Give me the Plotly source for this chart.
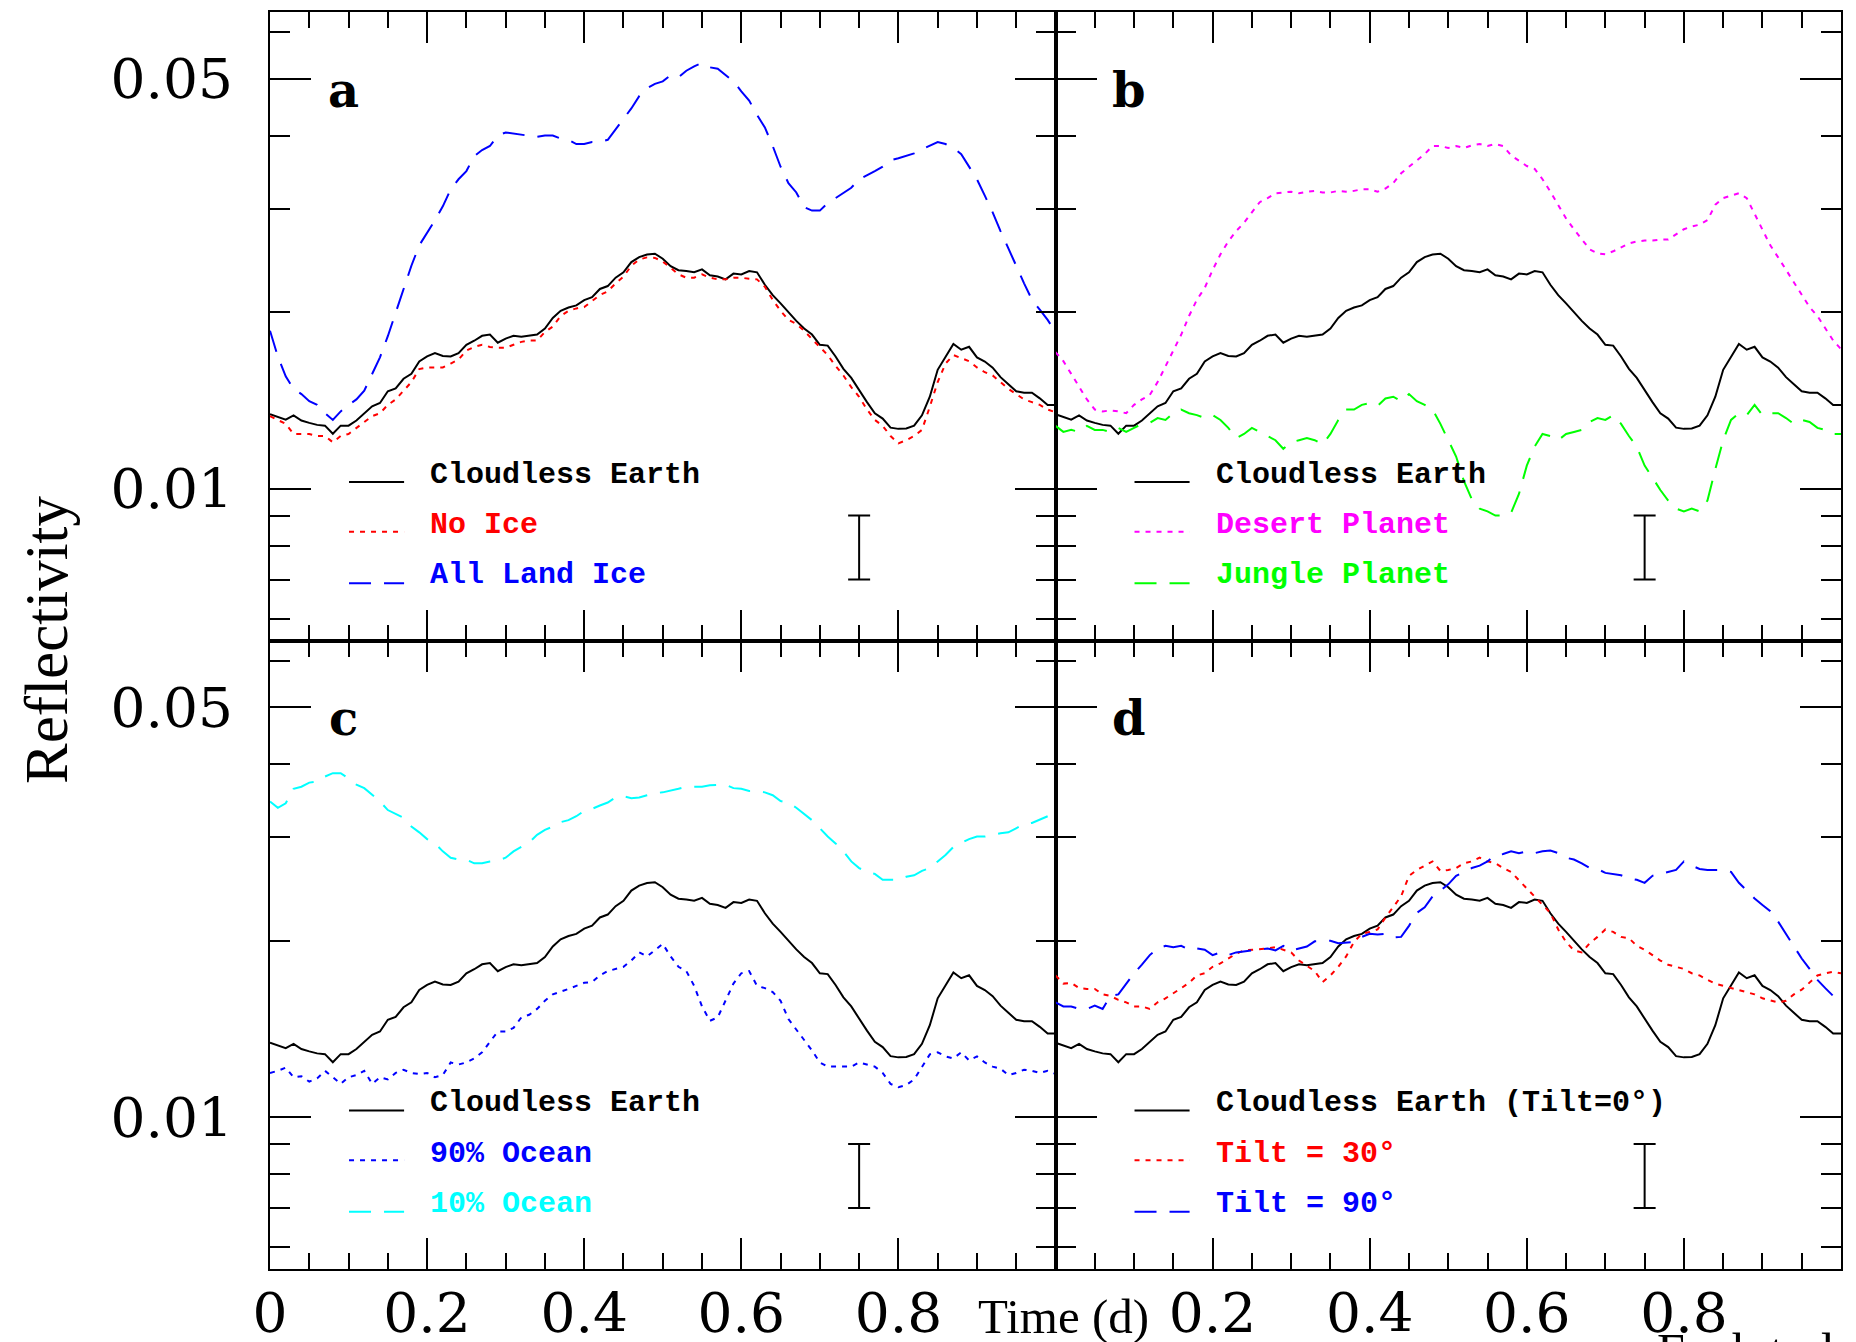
import plotly.graph_objects as go

# ---------------- data ----------------
TIME = [round(i * 0.01, 2) for i in range(101)]

CLOUDLESS_EARTH = [
    0.01340, 0.01327, 0.01312, 0.01334, 0.01307, 0.01295, 0.01285, 0.01281, 0.01241, 0.01281, 0.01281,
    0.01307, 0.01345, 0.01382, 0.01400, 0.01466, 0.01483, 0.01540, 0.01570, 0.01648, 0.01681,
    0.01703, 0.01684, 0.01681, 0.01703, 0.01760, 0.01788, 0.01823, 0.01832, 0.01774, 0.01803,
    0.01823, 0.01817, 0.01823, 0.01832, 0.01876, 0.01955, 0.02011, 0.02037, 0.02054, 0.02097,
    0.02121, 0.02191, 0.02216, 0.02290, 0.02339, 0.02435, 0.02483, 0.02508, 0.02516, 0.02467,
    0.02396, 0.02358, 0.02350, 0.02339, 0.02366, 0.02312, 0.02301, 0.02275, 0.02327, 0.02320,
    0.02350, 0.02339, 0.02227, 0.02138, 0.02070, 0.01997, 0.01933, 0.01876, 0.01832, 0.01760,
    0.01754, 0.01681, 0.01601, 0.01545, 0.01470, 0.01405, 0.01345, 0.01317, 0.01271, 0.01265,
    0.01267, 0.01281, 0.01334, 0.01435, 0.01595, 0.01681, 0.01766, 0.01726, 0.01746, 0.01675,
    0.01648, 0.01609, 0.01550, 0.01507, 0.01466, 0.01458, 0.01458, 0.01426, 0.01389, 0.01389,
]

NO_ICE = [
    0.01330, 0.01310, 0.01290, 0.01240, 0.01240, 0.01240, 0.01230, 0.01230, 0.01200, 0.01230, 0.01240,
    0.01270, 0.01300, 0.01330, 0.01345, 0.01390, 0.01420, 0.01470, 0.01520, 0.01600, 0.01610,
    0.01610, 0.01610, 0.01635, 0.01660, 0.01720, 0.01745, 0.01760, 0.01745, 0.01740, 0.01740,
    0.01760, 0.01780, 0.01790, 0.01790, 0.01850, 0.01890, 0.01970, 0.02010, 0.02030, 0.02040,
    0.02090, 0.02140, 0.02170, 0.02240, 0.02300, 0.02400, 0.02460, 0.02480, 0.02475, 0.02440,
    0.02380, 0.02320, 0.02290, 0.02290, 0.02320, 0.02290, 0.02275, 0.02275, 0.02290, 0.02290,
    0.02280, 0.02275, 0.02210, 0.02100, 0.02010, 0.01940, 0.01910, 0.01860, 0.01800, 0.01745,
    0.01690, 0.01620, 0.01560, 0.01490, 0.01435, 0.01365, 0.01310, 0.01280, 0.01230, 0.01195,
    0.01210, 0.01230, 0.01260, 0.01380, 0.01520, 0.01635, 0.01690, 0.01670, 0.01650, 0.01610,
    0.01580, 0.01560, 0.01520, 0.01480, 0.01450, 0.01420, 0.01405, 0.01390, 0.01365, 0.01350,
]

ALL_LAND_ICE = [
    0.01860, 0.01680, 0.01555, 0.01480, 0.01450, 0.01410, 0.01390, 0.01345, 0.01310, 0.01355, 0.01390,
    0.01420, 0.01470, 0.01570, 0.01675, 0.01820, 0.02000, 0.02200, 0.02400, 0.02600, 0.02730,
    0.02870, 0.03030, 0.03240, 0.03370, 0.03480, 0.03690, 0.03780, 0.03840, 0.04000, 0.04050,
    0.04030, 0.04020, 0.04000, 0.03980, 0.04000, 0.04000, 0.03955, 0.03935, 0.03870, 0.03870,
    0.03900, 0.03900, 0.03935, 0.04100, 0.04270, 0.04450, 0.04670, 0.04820, 0.04900, 0.04950,
    0.05070, 0.05030, 0.05160, 0.05250, 0.05320, 0.05230, 0.05200, 0.05080, 0.04950, 0.04760,
    0.04590, 0.04340, 0.04130, 0.03840, 0.03540, 0.03320, 0.03200, 0.03020, 0.02980, 0.02980,
    0.03070, 0.03130, 0.03190, 0.03260, 0.03370, 0.03430, 0.03480, 0.03540, 0.03630, 0.03660,
    0.03700, 0.03730, 0.03790, 0.03840, 0.03900, 0.03870, 0.03810, 0.03720, 0.03540, 0.03370,
    0.03160, 0.02960, 0.02750, 0.02560, 0.02400, 0.02240, 0.02100, 0.02020, 0.01940, 0.01850,
]

DESERT_PLANET = [
    0.01710, 0.01650, 0.01570, 0.01495, 0.01420, 0.01365, 0.01355, 0.01360, 0.01355, 0.01345, 0.01390,
    0.01420, 0.01445, 0.01520, 0.01620, 0.01720, 0.01830, 0.01970, 0.02100, 0.02200, 0.02360,
    0.02510, 0.02640, 0.02750, 0.02840, 0.02960, 0.03080, 0.03130, 0.03190, 0.03200, 0.03210,
    0.03190, 0.03210, 0.03220, 0.03200, 0.03200, 0.03220, 0.03210, 0.03220, 0.03240, 0.03240,
    0.03210, 0.03250, 0.03320, 0.03450, 0.03540, 0.03630, 0.03720, 0.03840, 0.03840, 0.03810,
    0.03840, 0.03810, 0.03850, 0.03870, 0.03840, 0.03870, 0.03840, 0.03700, 0.03630, 0.03550,
    0.03510, 0.03370, 0.03210, 0.03050, 0.02890, 0.02770, 0.02660, 0.02560, 0.02520, 0.02510,
    0.02540, 0.02580, 0.02620, 0.02640, 0.02650, 0.02650, 0.02660, 0.02660, 0.02710, 0.02770,
    0.02800, 0.02820, 0.02870, 0.03050, 0.03130, 0.03160, 0.03190, 0.03130, 0.02940, 0.02750,
    0.02600, 0.02480, 0.02360, 0.02240, 0.02140, 0.02040, 0.01970, 0.01880, 0.01790, 0.01730,
]

JUNGLE_PLANET = [
    0.01280, 0.01250, 0.01260, 0.01250, 0.01280, 0.01260, 0.01260, 0.01250, 0.01270, 0.01250, 0.01270,
    0.01290, 0.01295, 0.01320, 0.01310, 0.01345, 0.01365, 0.01345, 0.01335, 0.01320, 0.01335,
    0.01310, 0.01270, 0.01220, 0.01240, 0.01270, 0.01250, 0.01230, 0.01210, 0.01170, 0.01200,
    0.01210, 0.01220, 0.01210, 0.01190, 0.01240, 0.01310, 0.01365, 0.01365, 0.01390, 0.01400,
    0.01385, 0.01425, 0.01435, 0.01410, 0.01450, 0.01410, 0.01390, 0.01365, 0.01290, 0.01210,
    0.01135, 0.01030, 0.00960, 0.00925, 0.00915, 0.00900, 0.00900, 0.00910, 0.00980, 0.01095,
    0.01180, 0.01240, 0.01230, 0.01210, 0.01240, 0.01250, 0.01260, 0.01300, 0.01320, 0.01310,
    0.01335, 0.01290, 0.01230, 0.01180, 0.01095, 0.01045, 0.00995, 0.00955, 0.00925, 0.00915,
    0.00925, 0.00915, 0.00955, 0.01080, 0.01210, 0.01310, 0.01345, 0.01335, 0.01390, 0.01335,
    0.01345, 0.01345, 0.01320, 0.01290, 0.01310, 0.01300, 0.01270, 0.01260, 0.01240, 0.01240,
]

OCEAN_90 = [
    0.01190, 0.01200, 0.01215, 0.01170, 0.01175, 0.01150, 0.01165, 0.01200, 0.01170, 0.01140, 0.01170,
    0.01180, 0.01200, 0.01140, 0.01170, 0.01160, 0.01190, 0.01205, 0.01190, 0.01185, 0.01190,
    0.01170, 0.01180, 0.01240, 0.01230, 0.01240, 0.01260, 0.01290, 0.01345, 0.01400, 0.01400,
    0.01420, 0.01480, 0.01495, 0.01530, 0.01580, 0.01620, 0.01635, 0.01655, 0.01675, 0.01695,
    0.01700, 0.01745, 0.01775, 0.01790, 0.01805, 0.01850, 0.01910, 0.01880, 0.01925, 0.01975,
    0.01880, 0.01805, 0.01775, 0.01675, 0.01545, 0.01460, 0.01480, 0.01580, 0.01690, 0.01760,
    0.01775, 0.01675, 0.01660, 0.01635, 0.01580, 0.01470, 0.01410, 0.01355, 0.01300, 0.01240,
    0.01220, 0.01220, 0.01220, 0.01220, 0.01240, 0.01230, 0.01220, 0.01190, 0.01140, 0.01125,
    0.01135, 0.01160, 0.01220, 0.01280, 0.01290, 0.01270, 0.01260, 0.01290, 0.01250, 0.01270,
    0.01240, 0.01220, 0.01210, 0.01180, 0.01190, 0.01205, 0.01200, 0.01190, 0.01200, 0.01185,
]

OCEAN_10 = [
    0.03455, 0.03370, 0.03430, 0.03630, 0.03660, 0.03720, 0.03735, 0.03810, 0.03860, 0.03860, 0.03780,
    0.03690, 0.03640, 0.03540, 0.03455, 0.03340, 0.03290, 0.03240, 0.03130, 0.03060, 0.02980,
    0.02930, 0.02840, 0.02770, 0.02750, 0.02750, 0.02710, 0.02710, 0.02730, 0.02740, 0.02770,
    0.02840, 0.02890, 0.02940, 0.03030, 0.03090, 0.03130, 0.03185, 0.03210, 0.03260, 0.03330,
    0.03355, 0.03400, 0.03440, 0.03510, 0.03525, 0.03500, 0.03510, 0.03540, 0.03570, 0.03580,
    0.03600, 0.03630, 0.03660, 0.03660, 0.03660, 0.03680, 0.03690, 0.03690, 0.03640, 0.03630,
    0.03600, 0.03600, 0.03580, 0.03540, 0.03460, 0.03440, 0.03370, 0.03290, 0.03210, 0.03110,
    0.03010, 0.02930, 0.02840, 0.02730, 0.02660, 0.02620, 0.02600, 0.02540, 0.02540, 0.02540,
    0.02570, 0.02585, 0.02630, 0.02660, 0.02730, 0.02800, 0.02890, 0.02930, 0.02980, 0.03010,
    0.03010, 0.03030, 0.03050, 0.03060, 0.03110, 0.03160, 0.03175, 0.03220, 0.03260, None,
]

TILT_30 = [
    0.01745, 0.01690, 0.01695, 0.01660, 0.01655, 0.01655, 0.01620, 0.01610, 0.01585, 0.01570, 0.01545,
    0.01545, 0.01530, 0.01570, 0.01595, 0.01630, 0.01660, 0.01695, 0.01745, 0.01760, 0.01805,
    0.01830, 0.01865, 0.01900, 0.01925, 0.01930, 0.01930, 0.01940, 0.01950, 0.01930, 0.01910,
    0.01850, 0.01810, 0.01775, 0.01700, 0.01745, 0.01805, 0.01880, 0.01990, 0.02055, 0.02070,
    0.02090, 0.02190, 0.02280, 0.02380, 0.02580, 0.02640, 0.02685, 0.02730, 0.02630, 0.02640,
    0.02660, 0.02710, 0.02730, 0.02770, 0.02730, 0.02710, 0.02660, 0.02620, 0.02535, 0.02455,
    0.02380, 0.02300, 0.02230, 0.02090, 0.01990, 0.01925, 0.01910, 0.01980, 0.02030, 0.02090,
    0.02070, 0.02030, 0.02020, 0.01960, 0.01930, 0.01890, 0.01850, 0.01820, 0.01805, 0.01790,
    0.01760, 0.01745, 0.01715, 0.01690, 0.01675, 0.01660, 0.01650, 0.01635, 0.01620, 0.01595,
    0.01580, 0.01570, 0.01580, 0.01620, 0.01650, 0.01700, 0.01745, 0.01760, 0.01770, 0.01760,
]

TILT_90 = [
    0.01570, 0.01545, 0.01545, 0.01530, 0.01530, 0.01550, 0.01530, 0.01610, 0.01620, 0.01690, 0.01760,
    0.01820, 0.01890, 0.01940, 0.01960, 0.01950, 0.01960, 0.01930, 0.01940, 0.01930, 0.01890,
    0.01910, 0.01890, 0.01910, 0.01920, 0.01925, 0.01930, 0.01940, 0.01925, 0.01960, 0.01925,
    0.01940, 0.01955, 0.01995, 0.01995, 0.02000, 0.01980, 0.01985, 0.01990, 0.02030, 0.02055,
    0.02050, 0.02055, 0.02025, 0.02030, 0.02120, 0.02230, 0.02280, 0.02380, 0.02435, 0.02495,
    0.02580, 0.02620, 0.02660, 0.02685, 0.02730, 0.02800, 0.02810, 0.02840, 0.02820, 0.02840,
    0.02820, 0.02840, 0.02850, 0.02820, 0.02770, 0.02750, 0.02710, 0.02660, 0.02650, 0.02610,
    0.02600, 0.02585, 0.02555, 0.02540, 0.02510, 0.02580, 0.02600, 0.02620, 0.02640, 0.02730,
    0.02685, 0.02650, 0.02640, 0.02640, 0.02640, 0.02620, 0.02510, 0.02435, 0.02360, 0.02300,
    0.02245, 0.02155, 0.02055, 0.01955, 0.01865, 0.01790, 0.01715, 0.01660, 0.01610, 0.01610,
]

# representative error bar (same in every panel)
ERRBAR_TIME = 0.75
ERRBAR_CENTER = 0.00794
ERRBAR_HIGH = 0.00900
ERRBAR_LOW = 0.00700

Y_MAJOR_TICKS = [0.01, 0.05]
Y_MAJOR_LABELS = ["0.01", "0.05"]
Y_MINOR_TICKS = [0.006, 0.007, 0.008, 0.009, 0.02, 0.03, 0.04, 0.06]
X_MAJOR_TICKS = [0, 0.2, 0.4, 0.6, 0.8, 1.0]
X_MINOR_TICKS = [0.05, 0.1, 0.15, 0.25, 0.3, 0.35, 0.45, 0.5, 0.55,
                 0.65, 0.7, 0.75, 0.85, 0.9, 0.95]
LEFT_X_LABELS = ["0", "0.2", "0.4", "0.6", "0.8", ""]
RIGHT_X_LABELS = ["", "0.2", "0.4", "0.6", "0.8", "1"]

# ---------------- styles ----------------
BLACK, RED, BLUE = "#000000", "#ff0000", "#0000ff"
MAGENTA, GREEN, CYAN = "#ff00ff", "#00ff00", "#00ffff"
SOLID, DOT, DASH = "solid", "5px,6px", "22px,13px"

PANELS = [
    dict(x="x", y="y", letter="a", series=[
        ("Cloudless Earth", CLOUDLESS_EARTH, BLACK, SOLID),
        ("No Ice", NO_ICE, RED, DOT),
        ("All Land Ice", ALL_LAND_ICE, BLUE, DASH)]),
    dict(x="x2", y="y2", letter="b", series=[
        ("Cloudless Earth", CLOUDLESS_EARTH, BLACK, SOLID),
        ("Desert Planet", DESERT_PLANET, MAGENTA, DOT),
        ("Jungle Planet", JUNGLE_PLANET, GREEN, DASH)]),
    dict(x="x3", y="y3", letter="c", series=[
        ("Cloudless Earth", CLOUDLESS_EARTH, BLACK, SOLID),
        ("90% Ocean", OCEAN_90, BLUE, DOT),
        ("10% Ocean", OCEAN_10, CYAN, DASH)]),
    dict(x="x4", y="y4", letter="d", series=[
        ("Cloudless Earth (Tilt=0°)", CLOUDLESS_EARTH, BLACK, SOLID),
        ("Tilt = 30°", TILT_30, RED, DOT),
        ("Tilt = 90°", TILT_90, BLUE, DASH)]),
]

fig = go.Figure()
shapes, annotations = [], []

LEG_LINE_X = (0.1006, 0.1707)
LEG_LINE_Y = [0.252, 0.173, 0.091]
LEG_TEXT_X = 0.2013
LEG_TEXT_Y = [0.264, 0.1834, 0.1037]

for p in PANELS:
    for name, vals, color, dash in p["series"]:
        fig.add_trace(go.Scatter(
            x=TIME, y=vals, xaxis=p["x"], yaxis=p["y"], mode="lines",
            name=name, showlegend=False,
            line=dict(color=color, width=2, dash=dash)))
    fig.add_trace(go.Scatter(
        x=[ERRBAR_TIME], y=[ERRBAR_CENTER], xaxis=p["x"], yaxis=p["y"],
        mode="markers", showlegend=False, hoverinfo="skip",
        marker=dict(size=1, color="rgba(0,0,0,0)"),
        error_y=dict(type="data", symmetric=False,
                     array=[ERRBAR_HIGH - ERRBAR_CENTER],
                     arrayminus=[ERRBAR_CENTER - ERRBAR_LOW],
                     color="black", thickness=2, width=11)))
    xd, yd = p["x"] + " domain", p["y"] + " domain"
    for i, (name, vals, color, dash) in enumerate(p["series"]):
        shapes.append(dict(type="line", xref=xd, yref=yd,
                           x0=LEG_LINE_X[0], x1=LEG_LINE_X[1],
                           y0=LEG_LINE_Y[i], y1=LEG_LINE_Y[i],
                           line=dict(color=color, width=2, dash=dash)))
        annotations.append(dict(xref=xd, yref=yd, x=LEG_TEXT_X, y=LEG_TEXT_Y[i],
                                xanchor="left", yanchor="middle", showarrow=False,
                                text="<b>" + name + "</b>",
                                font=dict(family="Liberation Mono", size=30, color=color)))
    annotations.append(dict(xref=xd, yref=yd, x=0.094, y=0.876,
                            xanchor="center", yanchor="middle", showarrow=False,
                            text="<b>" + p["letter"] + "</b>",
                            font=dict(family="DejaVu Serif", size=48, color="black")))

annotations.append(dict(xref="paper", yref="paper", x=0.5048, y=-0.0374,
                        xanchor="center", yanchor="middle", showarrow=False,
                        text="Time (d)",
                        font=dict(family="Liberation Serif", size=49, color="black")))
annotations.append(dict(xref="paper", yref="paper", x=-0.142, y=0.5004,
                        xanchor="center", yanchor="middle", showarrow=False,
                        textangle=-90, text="Reflectivity",
                        font=dict(family="Liberation Serif", size=61, color="black")))
# caption of the next line, cut by the lower edge of the picture
annotations.append(dict(xref="paper", yref="paper", x=0.8816, y=-0.0414,
                        xanchor="left", yanchor="top", showarrow=False,
                        text="Each tod",
                        font=dict(family="Liberation Serif", size=50, color="black")))

TICK_FONT = dict(family="DejaVu Serif", size=55, color="black")
AX_COMMON = dict(showline=True, linecolor="black", linewidth=2, mirror="ticks",
                 ticks="inside", tickcolor="black", tickwidth=2,
                 showgrid=False, zeroline=False, automargin=False,
                 tickfont=TICK_FONT)


def xaxis(domain, anchor, labels, show):
    return dict(AX_COMMON, domain=domain, anchor=anchor, range=[0, 1],
                tickmode="array", tickvals=X_MAJOR_TICKS, ticktext=labels,
                ticklen=31, showticklabels=show, tickangle=0,
                ticklabelstandoff=-5,
                minor=dict(tickmode="array", tickvals=X_MINOR_TICKS, ticks="inside",
                           ticklen=16, tickwidth=2, tickcolor="black", showgrid=False))


def yaxis(domain, anchor, show):
    return dict(AX_COMMON, domain=domain, anchor=anchor, type="log",
                range=[-2.2587, -1.1872],
                tickmode="array", tickvals=Y_MAJOR_TICKS, ticktext=Y_MAJOR_LABELS,
                ticklen=41, showticklabels=show, ticklabelstandoff=24,
                minor=dict(tickmode="array", tickvals=Y_MINOR_TICKS, ticks="inside",
                           ticklen=20, tickwidth=2, tickcolor="black", showgrid=False))


fig.update_layout(
    width=1856, height=1342,
    margin=dict(l=270, r=15, t=12, b=73),
    paper_bgcolor="white", plot_bgcolor="white",
    showlegend=False,
    xaxis=xaxis([0, 0.5], "y", LEFT_X_LABELS, False),
    xaxis2=xaxis([0.5, 1], "y2", RIGHT_X_LABELS, False),
    xaxis3=xaxis([0, 0.5], "y3", LEFT_X_LABELS, True),
    xaxis4=xaxis([0.5, 1], "y4", RIGHT_X_LABELS, True),
    yaxis=yaxis([0.5, 1], "x", True),
    yaxis2=yaxis([0.5, 1], "x2", False),
    yaxis3=yaxis([0, 0.5], "x3", True),
    yaxis4=yaxis([0, 0.5], "x4", False),
    shapes=shapes, annotations=annotations,
)

fig.write_html("out.html")
